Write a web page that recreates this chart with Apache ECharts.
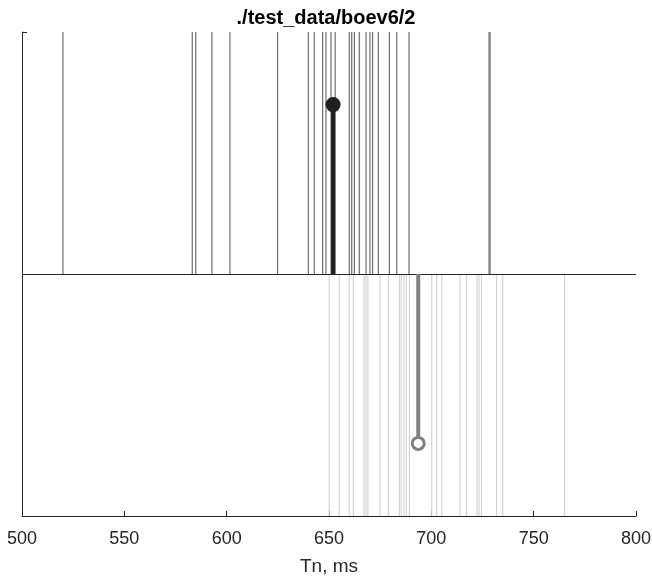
<!DOCTYPE html>
<html>
<head>
<meta charset="utf-8">
<script src="https://cdn.jsdelivr.net/npm/echarts@6/dist/echarts.min.js"></script>
<style>
  html, body { margin: 0; padding: 0; background: #fff; }
  #chart { width: 652px; height: 581px; }
</style>
</head>
<body>
<div id="chart"></div>
<script>
// upper events (dark), ms
var upper_times = [520.0, 583.2, 584.9, 592.8, 601.6, 624.9, 639.9, 642.8, 646.9, 648.5,
    651.0, 653.0, 659.9, 661.1, 662.4, 664.8, 668.1, 670.0, 671.3, 674.1, 679.5, 683.1,
    689.1, 728.2, 728.7];
// lower events (light), ms
var lower_times = [650.1, 655.0, 659.9, 661.9, 667.1, 668.1, 669.0, 675.0, 679.0, 684.4,
    685.3, 686.6, 687.8, 689.3, 700.2, 702.6, 705.1, 714.0, 717.2, 722.3, 723.3, 724.5,
    731.9, 734.9, 765.1];
// stems: [ms, level]
var upper_stem = [652.0, 1.7];
var lower_stem = [693.6, 0.3];
var x_ticks = [500, 550, 600, 650, 700, 750, 800];

var chart = echarts.init(document.getElementById('chart'));

function linesSeries(times, y0, y1, color) {
    return {
        type: 'custom',
        silent: true,
        data: times.map(function(t) { return [t, y0, y1]; }),
        renderItem: function(params, api) {
            var p0 = api.coord([api.value(0), api.value(1)]);
            var p1 = api.coord([api.value(0), api.value(2)]);
            return {
                type: 'line',
                shape: { x1: p0[0], y1: p0[1], x2: p1[0], y2: p1[1] },
                style: { stroke: color, lineWidth: 1.2 }
            };
        }
    };
}

function stemSeries(stem, color, fill, z) {
    return {
        type: 'custom',
        silent: true,
        z: z,
        data: [[stem[0], stem[1]]],
        renderItem: function(params, api) {
            var p0 = api.coord([api.value(0), 1]);
            var p1 = api.coord([api.value(0), api.value(1)]);
            return {
                type: 'group',
                children: [{
                    type: 'line',
                    shape: { x1: p0[0], y1: p0[1], x2: p1[0], y2: p1[1] },
                    style: { stroke: color, lineWidth: 4 }
                }, {
                    type: 'circle',
                    shape: { cx: p1[0], cy: p1[1], r: 6 },
                    style: { fill: fill, stroke: color, lineWidth: 3 }
                }]
            };
        }
    };
}

var option = {
    animation: false,
    title: {
        text: './test_data/boev6/2',
        left: 'center',
        top: 3,
        textStyle: { fontFamily: 'Liberation Sans', fontSize: 20, fontWeight: 'bold', color: '#000' }
    },
    grid: { left: 22, right: 16, top: 32, bottom: 65, outerBoundsMode: 'none', containLabel: false },
    xAxis: {
        type: 'value',
        min: 500,
        max: 800,
        interval: 50,
        name: 'Tn, ms',
        nameLocation: 'middle',
        nameGap: 41,
        nameTextStyle: { fontFamily: 'Liberation Sans', fontSize: 19, color: '#262626' },
        axisLine: { lineStyle: { color: '#262626', width: 1 } },
        axisTick: { inside: true, length: 5, lineStyle: { color: '#262626' } },
        axisLabel: {
            margin: 14, fontFamily: 'Liberation Sans', fontSize: 18, color: '#262626',
            formatter: function(v) { return x_ticks.indexOf(v) >= 0 ? String(v) : ''; }
        },
        splitLine: { show: false }
    },
    yAxis: {
        type: 'value',
        min: 0,
        max: 2,
        interval: 2,
        axisLine: { show: true, lineStyle: { color: '#262626', width: 1 } },
        axisTick: { show: true, inside: true, length: 5, lineStyle: { color: '#262626' } },
        axisLabel: { show: false },
        splitLine: { show: false }
    },
    series: [
        linesSeries(lower_times, 0, 1, '#d4d4d4'),
        linesSeries(upper_times, 1, 2, '#6e6e6e'),
        {
            type: 'line',
            data: [],
            silent: true,
            markLine: {
                symbol: 'none',
                silent: true,
                label: { show: false },
                lineStyle: { color: '#262626', width: 1, type: 'solid' },
                data: [{ yAxis: 1 }]
            }
        },
        stemSeries(lower_stem, '#808080', '#ffffff', 5),
        stemSeries(upper_stem, '#202020', '#202020', 6)
    ]
};
chart.setOption(option);
</script>
</body>
</html>
